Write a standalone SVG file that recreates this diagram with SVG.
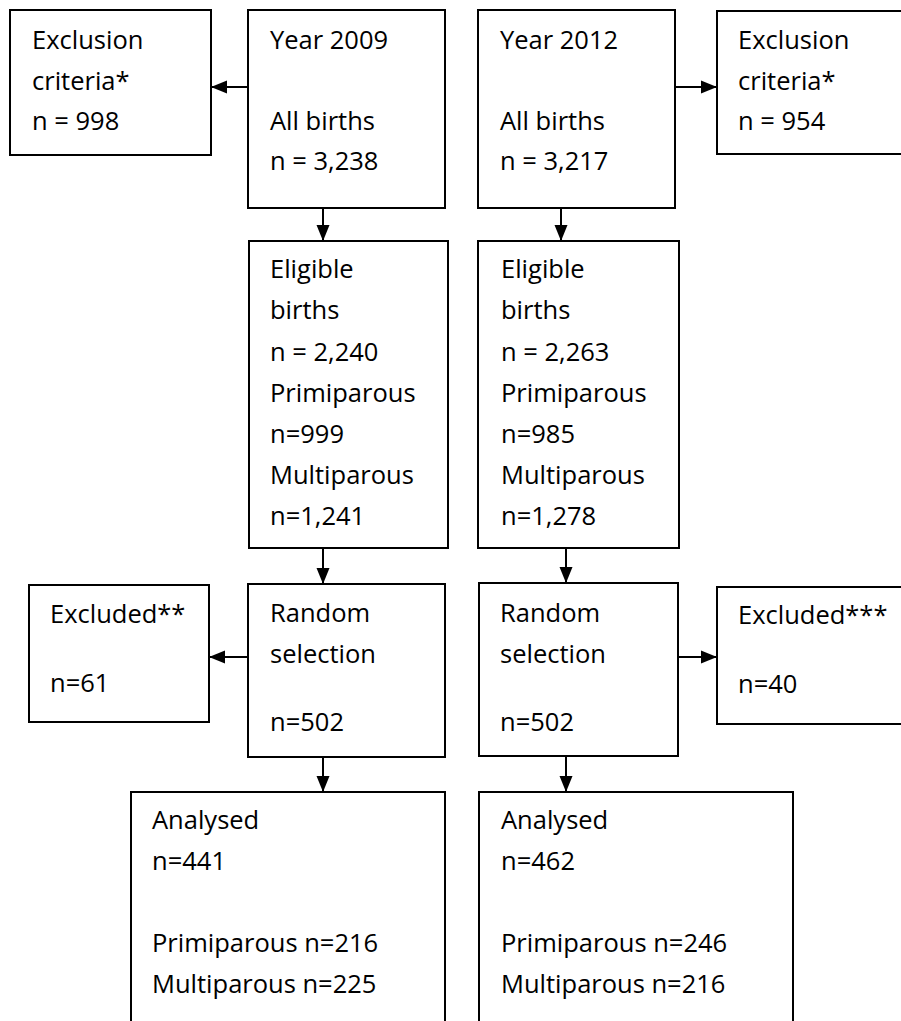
<svg xmlns="http://www.w3.org/2000/svg" width="901" height="1021" viewBox="0 0 901 1021">
<defs>
<style>
.box{fill:#fff;stroke:#000;stroke-width:2}
.t{font-family:"Open Sans","Liberation Sans",sans-serif;font-size:25.5px;fill:#000}
.c{stroke:#000;stroke-width:2;fill:none}
</style>
<marker id="ah" markerUnits="userSpaceOnUse" markerWidth="16" markerHeight="14" refX="16" refY="7" orient="auto">
<path d="M0,0.5 L16,7 L0,13.5 z" fill="#000"/>
</marker>
</defs>
<rect width="901" height="1021" fill="#fff"/>
<g id="connectors">
<line class="c" x1="248" y1="87" x2="211" y2="87" marker-end="url(#ah)"/>
<line class="c" x1="675" y1="87" x2="717" y2="87" marker-end="url(#ah)"/>
<line class="c" x1="323" y1="208" x2="323" y2="241" marker-end="url(#ah)"/>
<line class="c" x1="561" y1="208" x2="561" y2="241" marker-end="url(#ah)"/>
<line class="c" x1="323" y1="548" x2="323" y2="584" marker-end="url(#ah)"/>
<line class="c" x1="566" y1="548" x2="566" y2="583" marker-end="url(#ah)"/>
<line class="c" x1="248" y1="657" x2="209" y2="657" marker-end="url(#ah)"/>
<line class="c" x1="678" y1="657" x2="717" y2="657" marker-end="url(#ah)"/>
<line class="c" x1="323" y1="757" x2="323" y2="792" marker-end="url(#ah)"/>
<line class="c" x1="566" y1="756" x2="566" y2="792" marker-end="url(#ah)"/>
</g>
<g id="excl2009">
<rect class="box" x="10" y="10" width="201" height="145"/>
<text class="t" x="32" y="49">Exclusion</text>
<text class="t" x="32" y="90">criteria*</text>
<text class="t" x="32" y="130">n = 998</text>
</g>
<g id="year2009">
<rect class="box" x="248" y="10" width="197" height="198"/>
<text class="t" x="270" y="49">Year 2009</text>
<text class="t" x="270" y="130">All births</text>
<text class="t" x="270" y="170">n = 3,238</text>
</g>
<g id="year2012">
<rect class="box" x="478" y="10" width="197" height="198"/>
<text class="t" x="500" y="49">Year 2012</text>
<text class="t" x="500" y="130">All births</text>
<text class="t" x="500" y="170">n = 3,217</text>
</g>
<g id="excl2012">
<rect class="box" x="717" y="11" width="200" height="143"/>
<text class="t" x="738" y="49">Exclusion</text>
<text class="t" x="738" y="90">criteria*</text>
<text class="t" x="738" y="130">n = 954</text>
</g>
<g id="elig2009">
<rect class="box" x="249" y="241" width="199" height="307"/>
<text class="t" x="270" y="278">Eligible</text>
<text class="t" x="270" y="319">births</text>
<text class="t" x="270" y="361">n = 2,240</text>
<text class="t" x="270" y="402">Primiparous</text>
<text class="t" x="270" y="443">n=999</text>
<text class="t" x="270" y="484">Multiparous</text>
<text class="t" x="270" y="525">n=1,241</text>
</g>
<g id="elig2012">
<rect class="box" x="478" y="241" width="201" height="307"/>
<text class="t" x="501" y="278">Eligible</text>
<text class="t" x="501" y="319">births</text>
<text class="t" x="501" y="361">n = 2,263</text>
<text class="t" x="501" y="402">Primiparous</text>
<text class="t" x="501" y="443">n=985</text>
<text class="t" x="501" y="484">Multiparous</text>
<text class="t" x="501" y="525">n=1,278</text>
</g>
<g id="excl61">
<rect class="box" x="29" y="585" width="180" height="137"/>
<text class="t" x="50" y="623">Excluded**</text>
<text class="t" x="50" y="692">n=61</text>
</g>
<g id="rand2009">
<rect class="box" x="248" y="584" width="197" height="173"/>
<text class="t" x="270" y="622">Random</text>
<text class="t" x="270" y="663">selection</text>
<text class="t" x="270" y="731">n=502</text>
</g>
<g id="rand2012">
<rect class="box" x="479" y="583" width="199" height="173"/>
<text class="t" x="500" y="622">Random</text>
<text class="t" x="500" y="663">selection</text>
<text class="t" x="500" y="731">n=502</text>
</g>
<g id="excl40">
<rect class="box" x="717" y="587" width="200" height="137"/>
<text class="t" x="738" y="624">Excluded***</text>
<text class="t" x="738" y="693">n=40</text>
</g>
<g id="anal2009">
<rect class="box" x="131" y="792" width="314" height="260"/>
<text class="t" x="152" y="829">Analysed</text>
<text class="t" x="152" y="870">n=441</text>
<text class="t" x="152" y="952">Primiparous n=216</text>
<text class="t" x="152" y="993">Multiparous n=225</text>
</g>
<g id="anal2012">
<rect class="box" x="479" y="792" width="314" height="260"/>
<text class="t" x="501" y="829">Analysed</text>
<text class="t" x="501" y="870">n=462</text>
<text class="t" x="501" y="952">Primiparous n=246</text>
<text class="t" x="501" y="993">Multiparous n=216</text>
</g>
</svg>
